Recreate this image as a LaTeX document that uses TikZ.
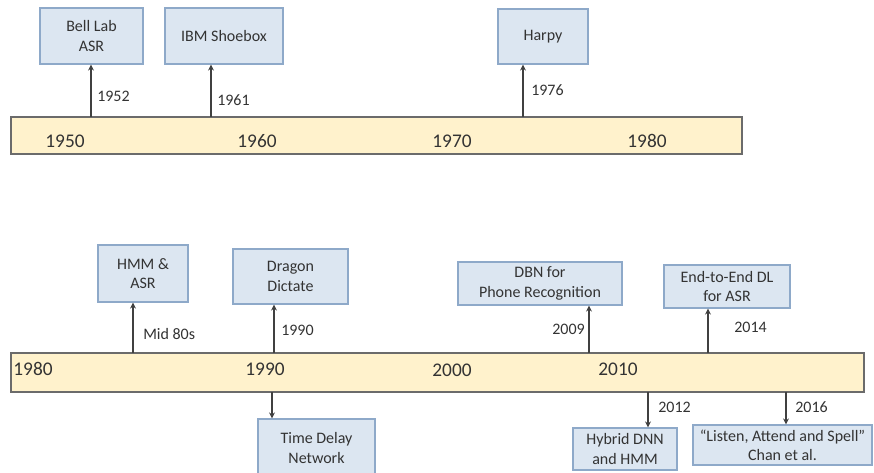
\documentclass[tikz,border=0pt]{standalone}
\usepackage{fontspec}
\setmainfont{Carlito}
\usetikzlibrary{arrows.meta}
\definecolor{boxfill}{HTML}{DCE6F1}
\definecolor{boxline}{HTML}{8EA9C9}
\definecolor{barfill}{HTML}{FFF2CC}
\definecolor{barline}{HTML}{6B6B6B}
\definecolor{ink}{HTML}{333333}
\definecolor{arrink}{HTML}{404040}
\tikzset{
  evbox/.style 2 args={draw=boxline, fill=boxfill, line width=0.9pt, inner sep=0pt,
    minimum width=#1*0.75pt, minimum height=#2*0.75pt, align=center,
    font=\fontsize{12}{14.5}\selectfont, text=ink},
  barbox/.style={draw=barline, fill=barfill, line width=1.1pt},
  yearbig/.style={font=\fontsize{14.5}{16}\selectfont, text=ink, inner sep=0pt},
  yearsmall/.style={font=\fontsize{12}{14}\selectfont, text=ink, inner sep=0pt},
  arr/.style={draw=arrink, line width=0.9pt, -{Stealth[length=4.5pt,width=4.5pt]}},
}
\begin{document}
\begin{tikzpicture}[x=0.75pt,y=-0.75pt]
\useasboundingbox (0,0) rectangle (874,473);
\clip (0,0) rectangle (874,473);
% bars
\node[barbox, inner sep=0pt, minimum width=731*0.75pt, minimum height=37*0.75pt] (bar1) at (376.5,135.5) {};
\node[barbox, inner sep=0pt, minimum width=853*0.75pt, minimum height=39*0.75pt] (bar2) at (437.5,372.5) {};
% bar year labels
\node[yearbig] (y1950) at (65,141) {1950};
\node[yearbig] (y1960) at (257,141) {1960};
\node[yearbig] (y1970) at (452,141) {1970};
\node[yearbig] (y1980a) at (647,141) {1980};
\node[yearbig] (y1980b) at (33,369) {1980};
\node[yearbig] (y1990) at (265,369) {1990};
\node[yearbig] (y2000) at (452,370) {2000};
\node[yearbig] (y2010) at (618,369) {2010};
% boxes top
\node[evbox={103}{56}] (bell) at (91.5,36) {Bell Lab\\ASR};
\node[evbox={118}{56}] (ibm) at (224,36) {IBM Shoebox};
\node[evbox={90}{55}] (harpy) at (543,36.5) {Harpy};
% boxes bottom
\node[evbox={90}{57}] (hmm) at (143,273.5) {HMM \&\\ASR};
\node[evbox={115}{55}] (dragon) at (290.5,276.5) {Dragon\\Dictate};
\node[evbox={164}{43}] (dbn) at (540,283.5) {DBN for\\Phone Recognition};
\node[evbox={126}{43}] (e2e) at (727,286.5) {End-to-End DL\\for ASR};
\node[evbox={117}{58}] (tdn) at (316.5,448) {Time Delay\\Network};
\node[evbox={104}{42}] (hyb) at (625,449) {Hybrid DNN\\and HMM};
\node[evbox={179}{40}] (las) at (782.5,445) {\textquotedblleft Listen, Attend and Spell\textquotedblright\\Chan et al.};
% anchor points on bars
\coordinate (p1952) at (91,117);
\coordinate (p1961) at (211,117);
\coordinate (p1976) at (523,117);
\coordinate (p80s) at (133,353);
\coordinate (p1990) at (274,353);
\coordinate (p2009) at (589,353);
\coordinate (p2014) at (708,353);
\coordinate (p1990d) at (272,392);
\coordinate (p2012) at (648,392);
\coordinate (p2016) at (786,392);
% arrows
\draw[arr] (p1952) -- (p1952 |- bell.south);
\draw[arr] (p1961) -- (p1961 |- ibm.south);
\draw[arr] (p1976) -- (p1976 |- harpy.south);
\draw[arr] (p80s) -- (p80s |- hmm.south);
\draw[arr] (p1990) -- (p1990 |- dragon.south);
\draw[arr] (p2009) -- (p2009 |- dbn.south);
\draw[arr] (p2014) -- (p2014 |- e2e.south);
\draw[arr] (p1990d) -- (p1990d |- tdn.north);
\draw[arr] (p2012) -- (p2012 |- hyb.north);
\draw[arr] (p2016) -- (p2016 |- las.north);
% arrow labels
\node[yearsmall, anchor=west] (l1952) at (97,96) {1952};
\node[yearsmall, anchor=west] (l1961) at (217,100) {1961};
\node[yearsmall, anchor=west] (l1976) at (531,90) {1976};
\node[yearsmall, anchor=west] (l80s) at (143,334) {Mid 80s};
\node[yearsmall, anchor=west] (l1990) at (281,330) {1990};
\node[yearsmall, anchor=east] (l2009) at (585,329) {2009};
\node[yearsmall, anchor=west] (l2014) at (734,327) {2014};
\node[yearsmall, anchor=west] (l2012) at (658,407) {2012};
\node[yearsmall, anchor=west] (l2016) at (795,407) {2016};
\end{tikzpicture}
\end{document}
